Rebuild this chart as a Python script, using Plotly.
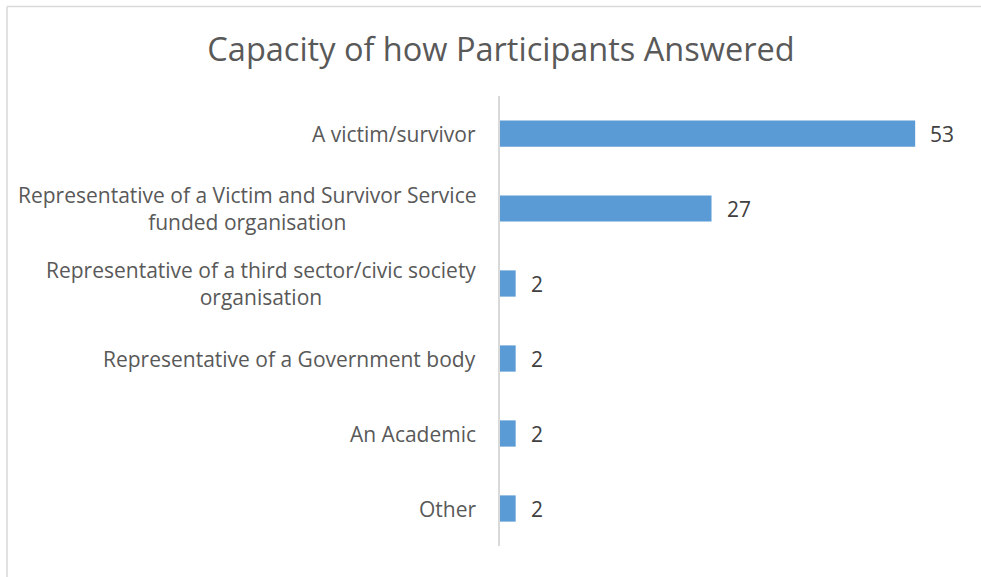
import plotly.graph_objects as go

categories = [
    "A victim/survivor",
    "Representative of a Victim and Survivor Service<br>funded organisation",
    "Representative of a third sector/civic society<br>organisation",
    "Representative of a Government body",
    "An Academic",
    "Other",
]
values = [53, 27, 2, 2, 2, 2]
title_text = "Capacity of how Participants Answered"

W, H = 981, 577
L, R, T, B = 500, 11, 96, 31
pw = W - L - R
ph = H - T - B

def px_x(p):
    return (p - L) / pw

def px_y(p):
    return (H - B - p) / ph

fig = go.Figure()
fig.add_trace(go.Bar(
    y=categories, x=values, orientation="h",
    marker=dict(color="#5b9bd5", line=dict(width=0)),
    width=0.35,
    hoverinfo="skip",
))

annotations = []
for c, v in zip(categories, values):
    annotations.append(dict(
        x=0, y=c, xref="paper", yref="y", text=c, showarrow=False,
        xanchor="right", yanchor="middle", align="center", xshift=-22,
        font=dict(family="Open Sans", size=21, color="#595959"),
    ))
    annotations.append(dict(
        x=v, y=c, xref="x", yref="y", text=str(v), showarrow=False,
        xanchor="left", yanchor="middle", xshift=13,
        font=dict(family="Open Sans", size=21, color="#404040"),
    ))

shapes = [
    dict(type="line", xref="paper", yref="paper", x0=px_x(7), x1=px_x(W + 5),
         y0=px_y(6.5), y1=px_y(6.5), line=dict(color="#d9d9d9", width=1.5)),
    dict(type="line", xref="paper", yref="paper", x0=px_x(7), x1=px_x(7),
         y0=px_y(6.5), y1=px_y(H + 5), line=dict(color="#d9d9d9", width=1.5)),
]

fig.update_layout(
    width=W, height=H,
    margin=dict(l=L, r=R, t=T, b=B),
    paper_bgcolor="white", plot_bgcolor="white",
    showlegend=False,
    title=dict(text=title_text, x=501 / W, xanchor="center", xref="container",
               y=1 - 50 / H, yanchor="middle", yref="container",
               font=dict(family="Open Sans", size=32.5, color="#595959")),
    xaxis=dict(range=[0, 60], showgrid=False, zeroline=False, showticklabels=False,
               showline=False, fixedrange=True),
    yaxis=dict(autorange="reversed", showticklabels=False, showgrid=False,
               showline=True, linecolor="#d9d9d9", linewidth=1.5, ticks="",
               zeroline=False, fixedrange=True),
    annotations=annotations,
    shapes=shapes,
)
fig.write_html(
    "out.html",
    config={"displayModeBar": False},
    post_script="document.body.style.margin='0';document.body.style.overflow='hidden';",
)
